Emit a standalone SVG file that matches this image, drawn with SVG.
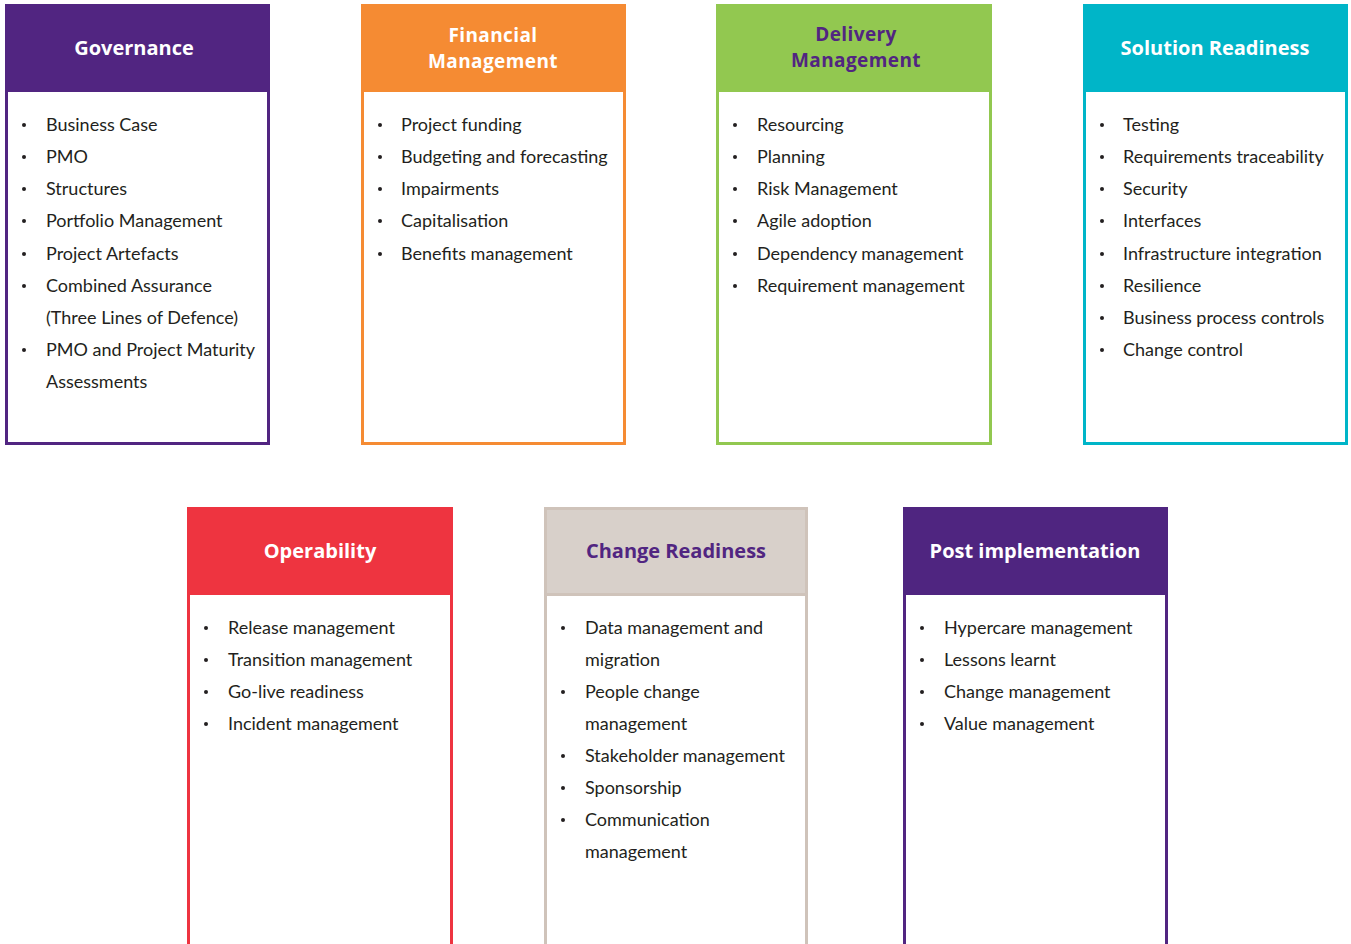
<svg xmlns="http://www.w3.org/2000/svg" width="1351" height="944" viewBox="0 0 1351 944">
<style>
.t{font-family:"Open Sans","Liberation Sans",sans-serif;font-weight:700;font-size:20px;text-anchor:middle;fill:#fff}
.t2{font-size:19px;letter-spacing:0.4px}
.tp{fill:#512581}
.b{font-family:Lato,"Liberation Sans",sans-serif;font-size:18px;fill:#231f20}
.d{fill:#231f20}
.box{fill:#fff;stroke-width:3}
</style>
<rect width="1351" height="944" fill="#fff"/>
<g id="governance">
<rect class="box" x="6.5" y="5.5" width="262" height="438" stroke="#512581"/>
<rect x="5" y="4" width="265" height="88" fill="#512581"/>
<text class="t" x="134" y="55">Governance</text>
<g class="b">
<text x="46" y="131">Business Case</text>
<text x="46" y="163">PMO</text>
<text x="46" y="195">Structures</text>
<text x="46" y="227">Portfolio Management</text>
<text x="46" y="260">Project Artefacts</text>
<text x="46" y="292">Combined Assurance</text>
<text x="46" y="324">(Three Lines of Defence)</text>
<text x="46" y="356">PMO and Project Maturity</text>
<text x="46" y="388">Assessments</text>
</g>
<g class="d">
<circle cx="24" cy="125" r="2"/><circle cx="24" cy="157" r="2"/><circle cx="24" cy="189" r="2"/><circle cx="24" cy="221" r="2"/><circle cx="24" cy="254" r="2"/><circle cx="24" cy="286" r="2"/><circle cx="24" cy="350" r="2"/>
</g>
</g>
<g id="financial">
<rect class="box" x="362.5" y="5.5" width="262" height="438" stroke="#f58b33"/>
<rect x="361" y="4" width="265" height="88" fill="#f58b33"/>
<text class="t t2" x="493" y="42">Financial</text>
<text class="t t2" x="493" y="68">Management</text>
<g class="b">
<text x="401" y="131">Project funding</text>
<text x="401" y="163">Budgeting and forecasting</text>
<text x="401" y="195">Impairments</text>
<text x="401" y="227">Capitalisation</text>
<text x="401" y="260">Benefits management</text>
</g>
<g class="d">
<circle cx="380" cy="125" r="2"/><circle cx="380" cy="157" r="2"/><circle cx="380" cy="189" r="2"/><circle cx="380" cy="221" r="2"/><circle cx="380" cy="254" r="2"/>
</g>
</g>
<g id="delivery">
<rect class="box" x="717.5" y="5.5" width="273" height="438" stroke="#92c850"/>
<rect x="716" y="4" width="276" height="88" fill="#92c850"/>
<text class="t t2 tp" x="856" y="41">Delivery</text>
<text class="t t2 tp" x="856" y="67">Management</text>
<g class="b">
<text x="757" y="131">Resourcing</text>
<text x="757" y="163">Planning</text>
<text x="757" y="195">Risk Management</text>
<text x="757" y="227">Agile adoption</text>
<text x="757" y="260">Dependency management</text>
<text x="757" y="292">Requirement management</text>
</g>
<g class="d">
<circle cx="735" cy="125" r="2"/><circle cx="735" cy="157" r="2"/><circle cx="735" cy="189" r="2"/><circle cx="735" cy="221" r="2"/><circle cx="735" cy="254" r="2"/><circle cx="735" cy="286" r="2"/>
</g>
</g>
<g id="solution">
<rect class="box" x="1084.5" y="5.5" width="262" height="438" stroke="#00b5c8"/>
<rect x="1083" y="4" width="265" height="88" fill="#00b5c8"/>
<text class="t" x="1215" y="55">Solution Readiness</text>
<g class="b">
<text x="1123" y="131">Testing</text>
<text x="1123" y="163">Requirements traceability</text>
<text x="1123" y="195">Security</text>
<text x="1123" y="227">Interfaces</text>
<text x="1123" y="260">Infrastructure integration</text>
<text x="1123" y="292">Resilience</text>
<text x="1123" y="324">Business process controls</text>
<text x="1123" y="356">Change control</text>
</g>
<g class="d">
<circle cx="1102" cy="125" r="2"/><circle cx="1102" cy="157" r="2"/><circle cx="1102" cy="189" r="2"/><circle cx="1102" cy="221" r="2"/><circle cx="1102" cy="254" r="2"/><circle cx="1102" cy="286" r="2"/><circle cx="1102" cy="318" r="2"/><circle cx="1102" cy="350" r="2"/>
</g>
</g>
<g id="operability">
<rect class="box" x="188.5" y="508.5" width="263" height="450" stroke="#ee3440"/>
<rect x="187" y="507" width="266" height="88" fill="#ee3440"/>
<text class="t" x="320" y="558">Operability</text>
<g class="b">
<text x="228" y="634">Release management</text>
<text x="228" y="666">Transition management</text>
<text x="228" y="698">Go-live readiness</text>
<text x="228" y="730">Incident management</text>
</g>
<g class="d">
<circle cx="206" cy="628" r="2"/><circle cx="206" cy="660" r="2"/><circle cx="206" cy="692" r="2"/><circle cx="206" cy="724" r="2"/>
</g>
</g>
<g id="change">
<rect class="box" x="545.5" y="508.5" width="261" height="450" stroke="#cfc3ba"/>
<rect x="544" y="507" width="264" height="88" fill="#d8d0ca"/>
<rect x="545.5" y="508.5" width="261" height="86" fill="none" stroke="#cfc3ba" stroke-width="3"/>
<text class="t tp" x="676" y="558">Change Readiness</text>
<g class="b">
<text x="585" y="634">Data management and</text>
<text x="585" y="666">migration</text>
<text x="585" y="698">People change</text>
<text x="585" y="730">management</text>
<text x="585" y="762">Stakeholder management</text>
<text x="585" y="794">Sponsorship</text>
<text x="585" y="826">Communication</text>
<text x="585" y="858">management</text>
</g>
<g class="d">
<circle cx="563" cy="628" r="2"/><circle cx="563" cy="692" r="2"/><circle cx="563" cy="756" r="2"/><circle cx="563" cy="788" r="2"/><circle cx="563" cy="820" r="2"/>
</g>
</g>
<g id="post">
<rect class="box" x="904.5" y="508.5" width="262" height="450" stroke="#512581"/>
<rect x="903" y="507" width="265" height="88" fill="#4f2580"/>
<text class="t" x="1035" y="558">Post implementation</text>
<g class="b">
<text x="944" y="634">Hypercare management</text>
<text x="944" y="666">Lessons learnt</text>
<text x="944" y="698">Change management</text>
<text x="944" y="730">Value management</text>
</g>
<g class="d">
<circle cx="922" cy="628" r="2"/><circle cx="922" cy="660" r="2"/><circle cx="922" cy="692" r="2"/><circle cx="922" cy="724" r="2"/>
</g>
</g>
</svg>
